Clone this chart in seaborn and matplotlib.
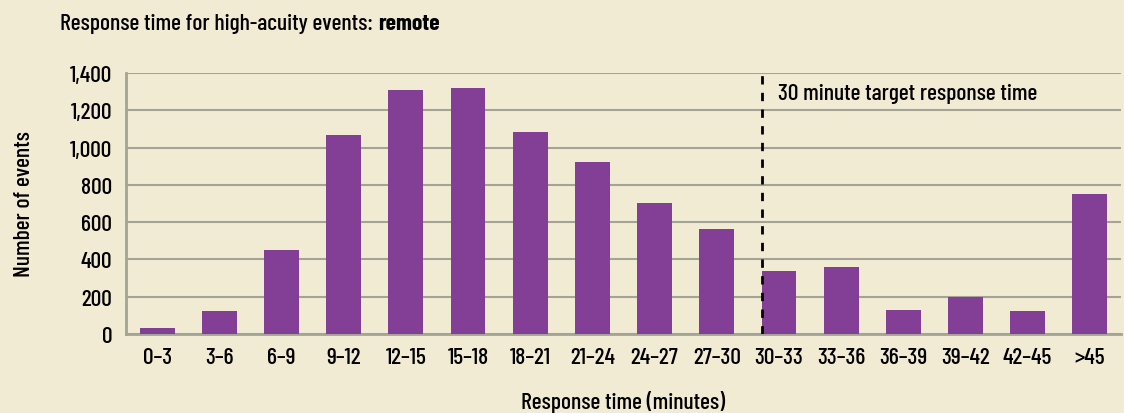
import matplotlib
matplotlib.use("Agg")
import matplotlib.pyplot as plt
from matplotlib import font_manager as fm
import seaborn as sns
import pandas as pd
from matplotlib.ticker import FuncFormatter, FixedLocator

categories = ["0–3", "3–6", "6–9", "9–12", "12–15", "15–18", "18–21", "21–24",
              "24–27", "27–30", "30–33", "33–36", "36–39", "39–42", "42–45", ">45"]
events = [32, 125, 450, 1065, 1310, 1320, 1085, 920, 700, 565, 338, 360, 129, 198, 123, 751]
yticks = [0, 200, 400, 600, 800, 1000, 1200, 1400]
target_pos = 9.72  # position of 30 minute target line (between 27–30 and 30–33)

BG = "#f2ebd4"
BAR = "#823f95"
GRID = "#a3a396"

installed = {f.name for f in fm.fontManager.ttflist}
prefs = ["Barlow Condensed", "Roboto Condensed", "Archivo Narrow", "PT Sans Narrow",
         "Encode Sans Condensed", "Oswald", "Liberation Sans Narrow"]
main = next((p for p in prefs if p in installed), "DejaVu Sans")
FONT = [main, "DejaVu Sans"]
FS = 17
W = 500

sns.set_style("white")
plt.rcParams["font.family"] = FONT
plt.rcParams["font.weight"] = W
plt.rcParams["axes.labelweight"] = W
plt.rcParams["text.color"] = "black"
plt.rcParams["axes.labelcolor"] = "black"
plt.rcParams["xtick.color"] = "black"
plt.rcParams["ytick.color"] = "black"

df = pd.DataFrame({"cat": categories, "n": events})

fig = plt.figure(figsize=(11.24, 4.14), dpi=100, facecolor=BG)
ax = fig.add_axes([0.1121, 0.1908, 0.8852, 0.6305])
ax.set_facecolor(BG)

sns.barplot(data=df, x="cat", y="n", color=BAR, width=0.56, saturation=1,
            linewidth=0, ax=ax, zorder=3)

ax.set_ylim(0, 1400)
ax.set_xlim(-0.5, len(categories) - 0.5)
ax.yaxis.set_major_locator(FixedLocator(yticks))
ax.yaxis.set_major_formatter(FuncFormatter(lambda v, p: f"{int(v):,}"))
ax.grid(axis="y", color=GRID, linewidth=1.5, zorder=0)
ax.grid(axis="x", visible=False)
ax.set_axisbelow(True)

for s in ["top", "right"]:
    ax.spines[s].set_visible(False)
for s in ["left", "bottom"]:
    ax.spines[s].set_color(GRID)
    ax.spines[s].set_linewidth(2)

ax.tick_params(axis="y", length=0, labelsize=FS, pad=10, labelcolor="black")
ax.tick_params(axis="x", which="major", length=0, labelsize=FS, pad=9, labelcolor="black")
for lab in ax.get_xticklabels() + ax.get_yticklabels():
    lab.set_fontweight(W)
ax.set_xticks([i + 0.5 for i in range(len(categories) - 1)], minor=True)
ax.tick_params(axis="x", which="minor", direction="in", length=6, color=GRID, width=1)

ax.set_xlabel("Response time (minutes)", fontsize=FS, labelpad=17, color="black",
              fontweight=W)
ax.set_ylabel("Number of events", fontsize=FS, labelpad=26, color="black", fontweight=W)

ax.axvline(target_pos, color="black", linestyle=(0, (3, 3)), linewidth=2, zorder=4)
ax.text(target_pos + 0.27, 1290, "30 minute target response time", fontsize=FS,
        ha="left", va="center", zorder=5, color="black", fontweight=W)

t = fig.text(0.0534, 0.942, "Response time for high-acuity events: ", fontsize=FS,
             ha="left", va="center", color="black", fontweight=W)
fig.canvas.draw()
bb = t.get_window_extent()
x1 = fig.transFigure.inverted().transform((bb.x1, bb.y0))[0]
fig.text(x1, 0.942, "remote", fontsize=FS, fontweight="bold", ha="left", va="center",
         color="black")

fig.savefig("out.png", dpi=100, facecolor=BG)
